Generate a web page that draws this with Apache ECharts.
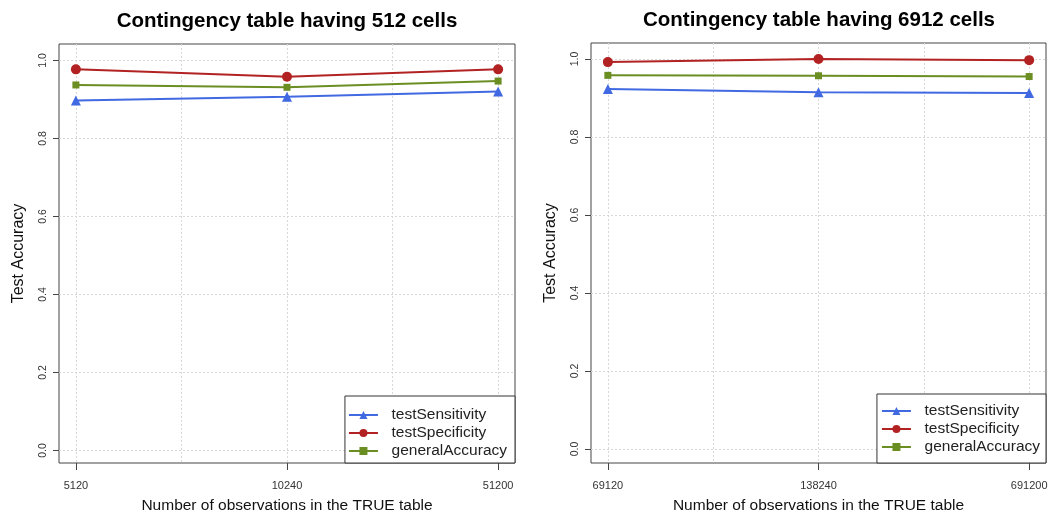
<!DOCTYPE html>
<html>
<head>
<meta charset="utf-8">
<script src="https://cdn.jsdelivr.net/npm/echarts@6/dist/echarts.min.js"></script>
<style>
html,body{margin:0;padding:0;background:#fff;}
#c{width:1049px;height:513px;}
</style>
</head>
<body>
<div id="c"></div>
<script>
// ---- data ----
var titleLeft = 'Contingency table having 512 cells';
var titleRight = 'Contingency table having 6912 cells';
var xLabelsLeft = ['5120', '10240', '51200'];
var xLabelsRight = ['69120', '138240', '691200'];
var yTicks = [0, 0.2, 0.4, 0.6, 0.8, 1.0];
var seriesNames = ['testSensitivity', 'testSpecificity', 'generalAccuracy'];
var sensLeft = [0.897, 0.907, 0.920];
var specLeft = [0.977, 0.958, 0.977];
var accLeft  = [0.937, 0.931, 0.947];
var sensRight = [0.923, 0.915, 0.913];
var specRight = [0.992, 1.000, 0.997];
var accRight  = [0.958, 0.957, 0.955];
var xTitle = 'Number of observations in the TRUE table';
var yTitle = 'Test Accuracy';

var colors = ['#4169E1', '#B22222', '#6B8E23'];
var symbols = ['triangle', 'circle', 'rect'];
var symSizes = [10, 10, 7];

function pts(arr) { return arr.map(function (v, i) { return [i + 1, v]; }); }

function xAxes(gridIndex, labels) {
  return [
    {
      type: 'value', gridIndex: gridIndex, min: 0.92, max: 3.08, position: 'bottom',
      axisLine: { show: false, onZero: false },
      axisTick: { show: true, inside: false, length: 7, customValues: [1, 2, 3], lineStyle: { color: '#444' } },
      axisLabel: { show: true, customValues: [1, 2, 3], margin: 17, fontSize: 11, color: '#333',
        fontFamily: 'Liberation Sans',
        formatter: function (v) { return labels[Math.round(v) - 1]; } },
      splitLine: { show: false },
      name: xTitle, nameLocation: 'middle', nameGap: 35,
      nameTextStyle: { fontSize: 15.5, color: '#111', fontFamily: 'Liberation Sans' }
    },
    {
      type: 'value', gridIndex: gridIndex, min: 0.92, max: 3.08, position: 'bottom',
      axisLine: { show: false, onZero: false },
      axisTick: { show: false, customValues: [1, 1.5, 2, 2.5, 3] },
      axisLabel: { show: false },
      splitLine: { show: true, lineStyle: { color: '#d8d8d8', type: [2, 2], width: 1 } }
    }
  ];
}

function yAxis(gridIndex, min, max) {
  return {
    type: 'value', gridIndex: gridIndex, min: min, max: max,
    axisLine: { show: false, onZero: false },
    axisTick: { show: true, length: 6, customValues: yTicks, lineStyle: { color: '#444' } },
    axisLabel: { show: true, customValues: yTicks, rotate: 90, margin: 10, fontSize: 10.5, color: '#333',
      fontFamily: 'Liberation Sans',
      formatter: function (v) { return v.toFixed(1); } },
    splitLine: { show: true, lineStyle: { color: '#d8d8d8', type: [2, 2], width: 1 } },
    name: yTitle, nameLocation: 'middle', nameGap: 32,
    nameTextStyle: { fontSize: 16, color: '#111', fontFamily: 'Liberation Sans' }
  };
}

function makeSeries(xi, yi, datas) {
  return datas.map(function (d, k) {
    return {
      name: seriesNames[k], type: 'line', xAxisIndex: xi, yAxisIndex: yi,
      data: pts(d), symbol: symbols[k], symbolSize: symSizes[k], showSymbol: true,
      lineStyle: { color: colors[k], width: 2 },
      itemStyle: { color: colors[k] },
      color: colors[k], z: 3 + k, animation: false
    };
  });
}

var legendCommon = {
  orient: 'vertical', bottom: 50, itemWidth: 29, itemHeight: 10, itemGap: 2,
  borderWidth: 1, borderColor: '#333', backgroundColor: '#fff',
  textStyle: { fontSize: 15.5, color: '#222', fontFamily: 'Liberation Sans' },
  formatter: function (n) { return '  ' + n; },
  data: seriesNames
};

var option = {
  backgroundColor: '#fff',
  animation: false,
  title: [
    { text: titleLeft, left: 282, top: 6, textAlign: 'center',
      textStyle: { fontSize: 20.5, fontWeight: 'bold', color: '#000', fontFamily: 'Liberation Sans' } },
    { text: titleRight, left: 814, top: 5, textAlign: 'center',
      textStyle: { fontSize: 20.5, fontWeight: 'bold', color: '#000', fontFamily: 'Liberation Sans' } }
  ],
  grid: [
    { left: 59, top: 44, width: 456, height: 419, show: true, borderColor: '#444', borderWidth: 1,
      backgroundColor: 'transparent', containLabel: false, outerBoundsMode: 'none' },
    { left: 591, top: 43, width: 455, height: 420, show: true, borderColor: '#444', borderWidth: 1,
      backgroundColor: 'transparent', containLabel: false, outerBoundsMode: 'none' }
  ],
  xAxis: xAxes(0, xLabelsLeft).concat(xAxes(1, xLabelsRight)),
  yAxis: [yAxis(0, -0.032, 1.042), yAxis(1, -0.036, 1.041)],
  legend: [
    Object.assign({}, legendCommon, { right: 534, padding: [11, 8, 4, 3] }),
    Object.assign({}, legendCommon, { right: 3, padding: [9, 6, 8, 4] })
  ],
  series: makeSeries(0, 0, [sensLeft, specLeft, accLeft]).concat(makeSeries(2, 1, [sensRight, specRight, accRight]))
};

var chart = echarts.init(document.getElementById('c'), null, { renderer: 'canvas' });
chart.setOption(option);
</script>
</body>
</html>
